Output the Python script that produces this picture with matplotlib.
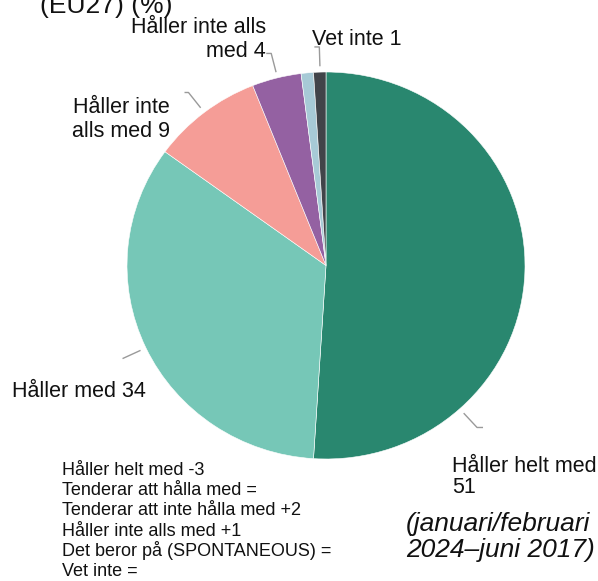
import numpy as np
import matplotlib
matplotlib.use('Agg')
from matplotlib import pyplot as plt

plt.rcParams['font.family'] = ['Liberation Sans', 'DejaVu Sans']

# slice values, clockwise from 12 o'clock
values = [51, 34, 9, 4, 1, 1]
colors = ['#29876f', '#76c7b7', '#f59d97', '#9461a2', '#a7cad6', '#414449']

labels = ['Håller helt med\n51', 'Håller med 34', 'Håller inte\nalls med 9',
          'Håller inte alls\nmed 4', 'Vet inte 1']
changes = ['Håller helt med -3', 'Tenderar att hålla med =',
           'Tenderar att inte hålla med +2', 'Håller inte alls med +1',
           'Det beror på (SPONTANEOUS) =', 'Vet inte =']
title = '(EU27) (%)'
period = ['(januari/februari', '2024–juni 2017)']

# pie centre / radii in pixels (reference is a bit stretched sideways)
W, H = 598, 581
CX, CY, RX, RY = 326, 265.5, 199, 193.5


def px(x, y):
    return (x - CX) / RX, (CY - y) / RY


fig = plt.figure(figsize=(W / 100, H / 100), dpi=100)
ax = fig.add_axes([0, 0, 1, 1])
ax.pie(values, colors=colors, startangle=90, counterclock=False,
       wedgeprops=dict(edgecolor='white', linewidth=0.4))
ax.set_aspect('auto')
ax.set_xlim(px(0, 0)[0], px(W, 0)[0])
ax.set_ylim(px(0, H)[1], px(0, 0)[1])
ax.axis('off')

# leader lines: (angle, horizontal tick)
leaders = [(-47.8, 0.03), (205.2, 0.0), (127.7, -0.02), (104.1, -0.025), (91.7, -0.025)]
for ang, tick in leaders:
    a = np.deg2rad(ang)
    x1, y1 = 1.03 * np.cos(a), 1.03 * np.sin(a)
    x2, y2 = 1.13 * np.cos(a), 1.13 * np.sin(a)
    ax.plot([x1, x2, x2 + tick], [y1, y2, y2], color='#9a9a9a', lw=1.0,
            solid_capstyle='butt', clip_on=False)

# label text: (x, baselines, ha)
lab_pos = [(452, [472, 493], 'left'), (12, [397], 'left'),
           (170, [113, 137], 'right'), (266, [33, 57], 'right'),
           (312, [45], 'left')]
for lab, (x, bases, ha) in zip(labels, lab_pos):
    for line, yb in zip(lab.split('\n'), bases):
        ax.text(*px(x, yb), line, ha=ha, va='baseline', fontsize=15.5, color='#111111')

for i, line in enumerate(changes):
    ax.text(*px(62, 475 + 20.2 * i), line, ha='left', va='baseline',
            fontsize=13, color='#111111')

for line, yb in zip(period, [531, 556.5]):
    ax.text(*px(406, yb), line, ha='left', va='baseline', fontsize=19,
            style='italic', color='#111111')

ax.text(*px(40, 13), title, ha='left', va='baseline', fontsize=19, color='#111111')

fig.savefig('out.png', dpi=100)
